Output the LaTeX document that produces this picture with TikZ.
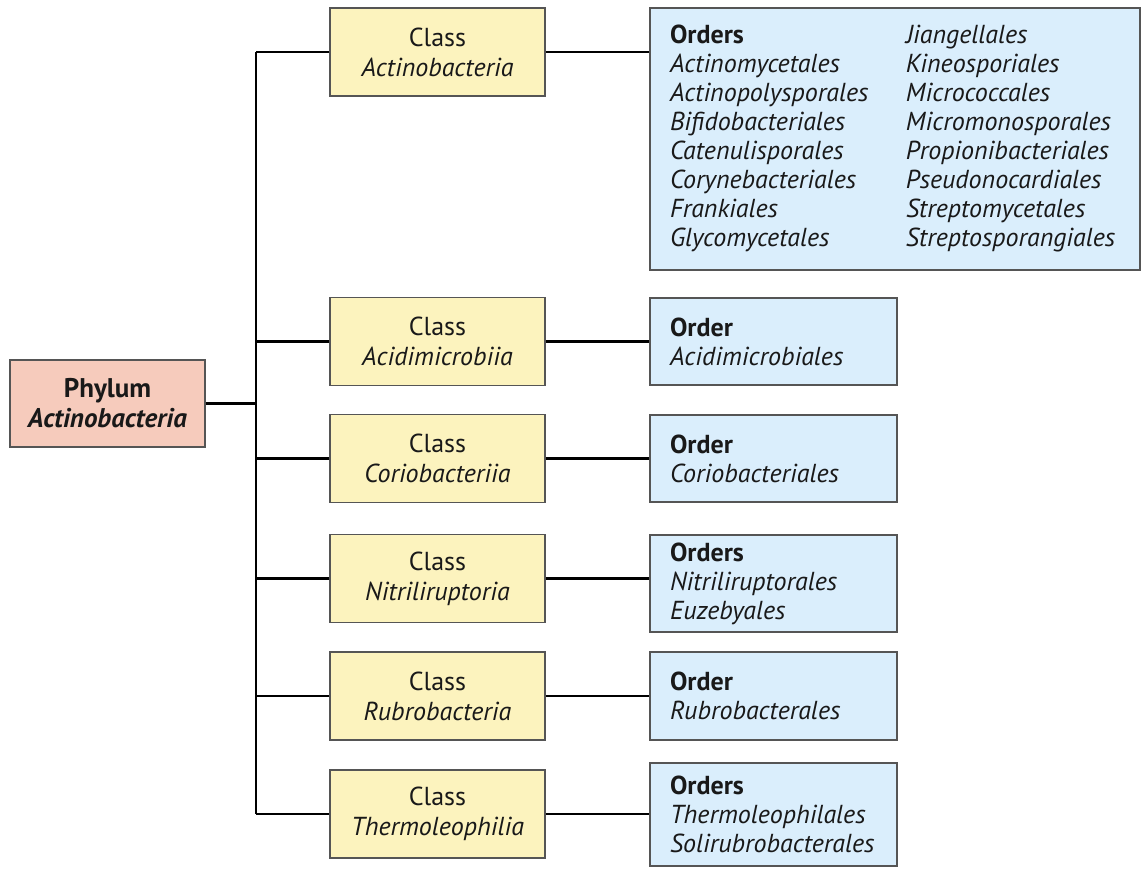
\documentclass[tikz,border=0pt]{standalone}
\usepackage{fontspec}
\setmainfont{PT Sans}
\usetikzlibrary{positioning}
\definecolor{phylumfill}{RGB}{246,203,188}
\definecolor{classfill}{RGB}{252,243,190}
\definecolor{orderfill}{RGB}{218,238,252}
\definecolor{boxline}{RGB}{85,85,85}

\begin{document}
\begin{tikzpicture}[x=0.5pt,y=-0.5pt]
\tikzstyle{every node}=[draw=boxline, line width=0.75pt, inner sep=0pt,
                        text=black!90, font=\fontsize{13}{14.5}\selectfont]
\tikzstyle{phylumbox}=[fill=phylumfill, minimum width=97.5pt, minimum height=43.5pt, align=center,
                       font=\fontsize{13.5}{15}\selectfont]
\tikzstyle{classbox}=[fill=classfill, minimum width=107.5pt, minimum height=44pt, align=center,
                      font=\fontsize{13}{15}\selectfont]
\tikzstyle{orderbox}=[fill=orderfill, inner xsep=10pt, text width=103.5pt, align=left]
\tikzstyle{link}=[line width=1.2pt, black]
\useasboundingbox (0,0) rectangle (1143,870);

\node[phylumbox] (P) at (107.5,403.5) {\textbf{Phylum}\\\textbf{\textit{Actinobacteria}}};
\coordinate (trunk) at (256,0);

% classes
\node[classbox] (C1) at (437.5,52) {Class\\\textit{Actinobacteria}};
\node[classbox] (C2) at (437.5,341.5) {Class\\\textit{Acidimicrobiia}};
\node[classbox] (C3) at (437.5,458.5) {Class\\\textit{Coriobacteriia}};
\node[classbox] (C4) at (437.5,578.5) {Class\\\textit{Nitriliruptoria}};
\node[classbox] (C5) at (437.5,696) {Class\\\textit{Rubrobacteria}};
\node[classbox] (C6) at (437.5,814) {Class\\\textit{Thermoleophilia}};

% orders
\node[orderbox, text width=225pt, minimum height=131pt] (O1) at (895,139)
  {\begin{tabular}{@{}p{118pt}@{}l@{}}
   \textbf{Orders} & \textit{Jiangellales}\\
   \textit{Actinomycetales} & \textit{Kineosporiales}\\
   \textit{Actinopolysporales} & \textit{Micrococcales}\\
   \textit{Bifidobacteriales} & \textit{Micromonosporales}\\
   \textit{Catenulisporales} & \textit{Propionibacteriales}\\
   \textit{Corynebacteriales} & \textit{Pseudonocardiales}\\
   \textit{Frankiales} & \textit{Streptomycetales}\\
   \textit{Glycomycetales} & \textit{Streptosporangiales}
   \end{tabular}};
\node[orderbox, minimum height=43.5pt] (O2) at (773.5,341.5) {\textbf{Order}\\\textit{Acidimicrobiales}};
\node[orderbox, minimum height=43.5pt] (O3) at (773.5,458.5) {\textbf{Order}\\\textit{Coriobacteriales}};
\node[orderbox, minimum height=48.5pt] (O4) at (773.5,583.5) {\textbf{Orders}\\\textit{Nitriliruptorales}\\\textit{Euzebyales}};
\node[orderbox, minimum height=44pt] (O5) at (773.5,696) {\textbf{Order}\\\textit{Rubrobacterales}};
\node[orderbox, minimum height=51.5pt] (O6) at (773.5,814.5) {\textbf{Orders}\\\textit{Thermoleophilales}\\\textit{Solirubrobacterales}};

\draw[link] (P.east) -- (P.east -| trunk);
\draw[link] (C1.west -| trunk) -- (C6.west -| trunk);
\foreach \i in {1,...,6}{\draw[link] (C\i.west) -- (C\i.west -| trunk);
  \draw[link] (C\i.east) -- (C\i.east -| O\i.west);}

\end{tikzpicture}
\end{document}
